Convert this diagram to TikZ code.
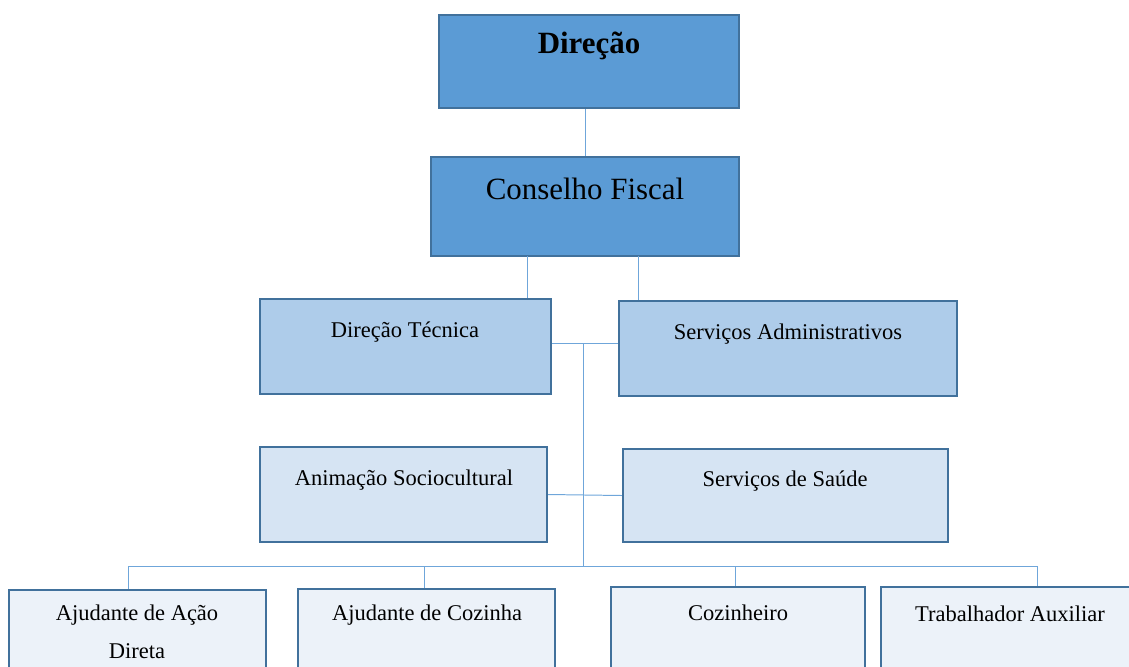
\documentclass[tikz,border=0pt]{standalone}
\usepackage{fontspec}
\setmainfont{Liberation Serif}
\definecolor{boxline}{HTML}{41719C}
\definecolor{fillone}{HTML}{5B9BD5}
\definecolor{filltwo}{HTML}{AECCEA}
\definecolor{fillthree}{HTML}{D6E4F3}
\definecolor{fillfour}{HTML}{ECF2F9}
\definecolor{linkcol}{HTML}{6FA6DA}

\begin{document}
\begin{tikzpicture}[x=0.025cm, y=-0.025cm,
    box/.style={rectangle, draw=boxline, line width=1.6pt, inner sep=0pt},
    lvlone/.style={box, fill=fillone},
    lvltwo/.style={box, fill=filltwo},
    lvlthree/.style={box, fill=fillthree},
    lvlfour/.style={box, fill=fillfour},
    txt/.style={inner sep=0pt, font=\fontsize{16}{19}\selectfont},
    link/.style={draw=linkcol, line width=0.7pt}]
    \useasboundingbox (0,0) rectangle (1129,666);
    \clip (0,0) rectangle (1129,666);

    % boxes
    \node[lvlone, minimum width=7.5cm, minimum height=2.325cm] (dir) at (589, 61.5) {};
    \node[lvlone, minimum width=7.7cm, minimum height=2.475cm] (cf) at (585, 206.5) {};
    \node[lvltwo, minimum width=7.275cm, minimum height=2.375cm] (dt) at (405.5, 346.5) {};
    \node[lvltwo, minimum width=8.45cm, minimum height=2.375cm] (sa) at (788, 348.5) {};
    \node[lvlthree, minimum width=7.175cm, minimum height=2.375cm] (as) at (403.5, 494.5) {};
    \node[lvlthree, minimum width=8.125cm, minimum height=2.325cm] (ss) at (785.5, 495.5) {};
    \node[lvlfour, minimum width=6.425cm, minimum height=2.375cm] (ajd) at (137.5, 637.5) {};
    \node[lvlfour, minimum width=6.425cm, minimum height=2.375cm] (ajc) at (426.5, 636.5) {};
    \node[lvlfour, minimum width=6.35cm, minimum height=2.375cm] (coz) at (738, 634.5) {};
    \node[lvlfour, minimum width=6.425cm, minimum height=2.375cm] (aux) at (1009.5, 634.5) {};

    % texts
    \node[txt, font=\fontsize{22}{26}\selectfont\bfseries] (dirtxt) at (589, 46) {Direção};
    \node[txt, font=\fontsize{22}{26}\selectfont] (cftxt) at (585, 189) {Conselho Fiscal};
    \node[txt] (dttxt) at (405, 332) {Direção Técnica};
    \node[txt] (satxt) at (788, 334) {Serviços Administrativos};
    \node[txt] (astxt) at (404, 480) {Animação Sociocultural};
    \node[txt] (sstxt) at (785, 481) {Serviços de Saúde};
    \node[txt, align=center, font=\fontsize{16}{27}\selectfont] (ajdtxt) at (137, 632) {Ajudante de Ação\\Direta};
    \node[txt] (ajctxt) at (427, 615) {Ajudante de Cozinha};
    \node[txt] (coztxt) at (738, 613) {Cozinheiro};
    \node[txt] (auxtxt) at (1010, 614) {Trabalhador Auxiliar};

    % junctions
    \coordinate (cfl) at (527, 256);
    \coordinate (cfr) at (638, 256);
    \coordinate (midtop) at (583, 343);
    \coordinate (midbot) at (583, 566);
    \coordinate (busl) at (128, 566);
    \coordinate (busb) at (424, 566);
    \coordinate (busc) at (735, 566);
    \coordinate (busr) at (1037, 566);

    % connectors
    \draw[link] (cf.north |- dir.south) -- (cf.north);
    \draw[link] (cfl) -- (cfl |- dt.north);
    \draw[link] (cfr) -- (cfr |- sa.north);
    \draw[link] (dt.east |- midtop) -- (sa.west |- midtop);
    \draw[link] (midtop) -- (midbot);
    \draw[link] (as.east) -- (ss.west);
    \draw[link] (busl) -- (busr);
    \draw[link] (busl) -- (busl |- ajd.north);
    \draw[link] (busb) -- (busb |- ajc.north);
    \draw[link] (busc) -- (busc |- coz.north);
    \draw[link] (busr) -- (busr |- aux.north);

\end{tikzpicture}
\end{document}
